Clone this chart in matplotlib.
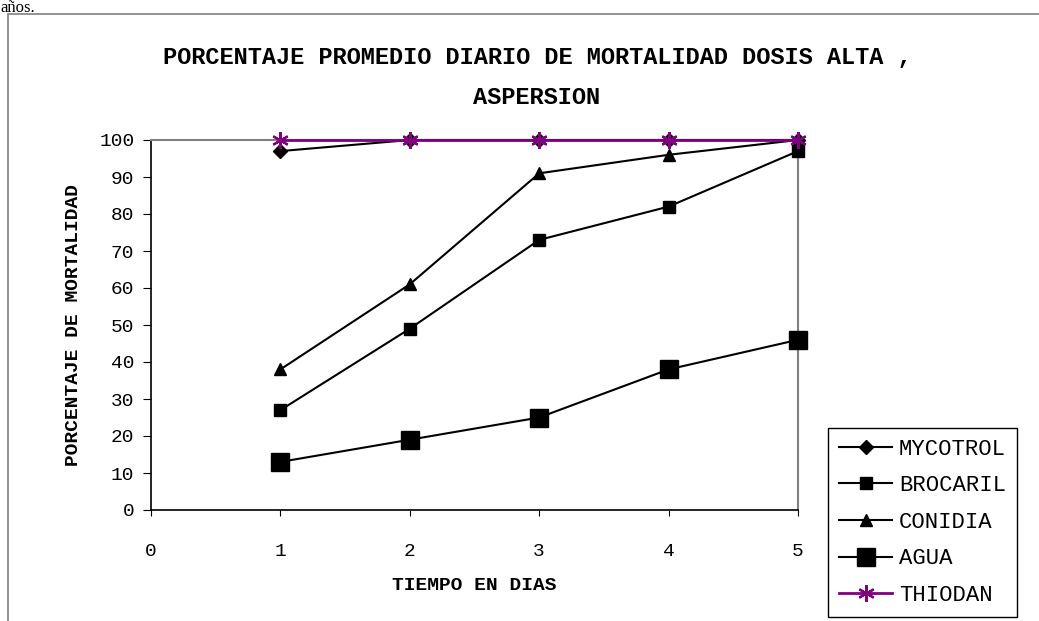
import matplotlib.pyplot as plt
from matplotlib.patches import Rectangle

dias = [1, 2, 3, 4, 5]
mycotrol = [97, 100, 100, 100, 100]
brocaril = [27, 49, 73, 82, 97]
conidia = [38, 61, 91, 96, 100]
agua = [13, 19, 25, 38, 46]
thiodan = [100, 100, 100, 100, 100]

mono = 'Liberation Mono'

fig = plt.figure(figsize=(10.39, 6.21), dpi=100)

# tail of the text from the page above the chart
fig.text(0.0, 1 - 12 / 621, 'años.', family='Liberation Serif', fontsize=12,
         ha='left', va='baseline')

# outer chart frame
fig.add_artist(Rectangle((8 / 1039, -0.01), 1.0, 1 - 14 / 621 + 0.01,
                         transform=fig.transFigure, fill=False,
                         edgecolor='#808080', linewidth=1.2))

ax = fig.add_axes([151 / 1039, 111 / 621, 647 / 1039, 370 / 621])

kw = dict(clip_on=False, lw=1.5, zorder=3)
ax.plot(dias, mycotrol, color='black', marker='D', markersize=7, label='MYCOTROL', **kw)
ax.plot(dias, brocaril, color='black', marker='s', markersize=9, label='BROCARIL', **kw)
ax.plot(dias, conidia, color='black', marker='^', markersize=9, label='CONIDIA', **kw)
ax.plot(dias, agua, color='black', marker='s', markersize=13, label='AGUA', **kw)
ax.plot(dias, thiodan, color='#800080', marker=(6, 2, 0), markersize=12,
        markeredgewidth=1.6, label='THIODAN', clip_on=False, lw=2, zorder=4)

ax.set_xlim(0, 5)
ax.set_ylim(0, 100)
ax.set_xticks(range(0, 6))
ax.set_yticks(range(0, 101, 10))
for s in ['top', 'right']:
    ax.spines[s].set_color('#808080')
    ax.spines[s].set_linewidth(1.5)
for s in ['left', 'bottom']:
    ax.spines[s].set_linewidth(1.2)
ax.tick_params(axis='y', direction='out', length=6, pad=6)
ax.tick_params(axis='x', direction='out', length=4, pad=20, bottom=True)
for lbl in ax.get_xticklabels() + ax.get_yticklabels():
    lbl.set_family(mono)
    lbl.set_fontsize(14)

ax.set_ylabel('PORCENTAJE DE MORTALIDAD', family=mono, fontweight='bold',
              fontsize=14, labelpad=12)
ax.set_xlabel('TIEMPO EN DIAS', family=mono, fontweight='bold', fontsize=14,
              labelpad=12)

fig.text(537 / 1039, 1 - 57 / 621,
         'PORCENTAJE PROMEDIO DIARIO DE MORTALIDAD DOSIS ALTA ,',
         family=mono, fontweight='bold', fontsize=17, ha='center', va='center')
fig.text(537 / 1039, 1 - 98 / 621, 'ASPERSION',
         family=mono, fontweight='bold', fontsize=17, ha='center', va='center')

leg = fig.legend(loc='lower left', bbox_to_anchor=(828 / 1039, 4 / 621),
                 prop={'family': mono, 'size': 16}, frameon=True,
                 fancybox=False, edgecolor='black', framealpha=1,
                 handlelength=2.4, labelspacing=0.7, borderpad=0.5,
                 handletextpad=0.3, borderaxespad=0)
leg.get_frame().set_linewidth(1.0)

fig.savefig('out.png', dpi=100)
